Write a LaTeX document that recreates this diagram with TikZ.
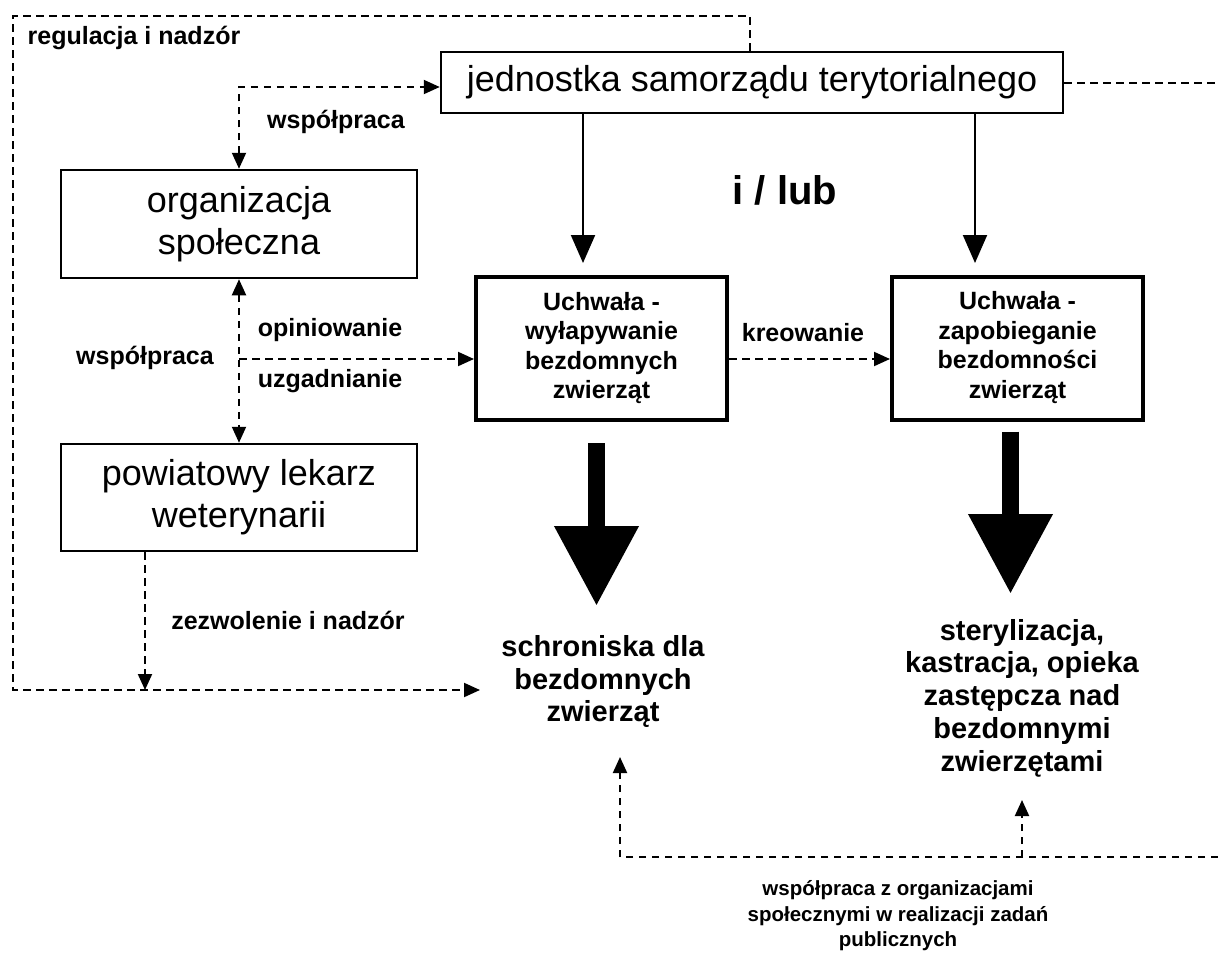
\documentclass[tikz,border=0pt]{standalone}
\usepackage{fontspec}
\setmainfont{Liberation Sans}
\usetikzlibrary{arrows.meta,calc}
\begin{document}
\begin{tikzpicture}[x=1pt,y=-1pt,
  regbox/.style={draw,line width=2.5pt,inner sep=0pt,align=center,font=\fontsize{36}{42}\selectfont},
  uchbox/.style={draw,line width=4pt,minimum width=251pt,minimum height=143pt,inner sep=0pt,align=center,font=\bfseries\fontsize{25}{29.5}\selectfont},
  lab/.style={inner sep=0pt,font=\bfseries\fontsize{25}{29}\selectfont},
  bigtxt/.style={inner sep=0pt,align=center,font=\bfseries\fontsize{29}{32.8}\selectfont},
  dline/.style={line width=2pt,dash pattern=on 7.5pt off 5.5pt},
  dtip/.style={-{Triangle[width=14pt,length=16pt]}},
  dtips/.style={{Triangle[width=14pt,length=16pt]}-{Triangle[width=14pt,length=16pt]}},
  solidar/.style={line width=2pt,-{Triangle[width=24pt,length=28pt]}},
  bigar/.style={line width=17pt,-{Triangle[width=80pt,length=80pt]}}
]
\useasboundingbox (0,0) rectangle (1218,961);

% boxes
\node[regbox,minimum width=622pt,minimum height=61pt] (jst) at (752,82.5) {jednostka samorządu terytorialnego};
\node[regbox,minimum width=356pt,minimum height=108pt] (org) at (239,224) {organizacja\\społeczna};
\node[regbox,minimum width=356pt,minimum height=107pt] (pow) at (239,497.5) {powiatowy lekarz\\weterynarii};
\node[uchbox] (u1) at (601.5,348.5) {\raisebox{3pt}{\begin{tabular}{@{}c@{}}Uchwała -\\wyłapywanie\\bezdomnych\\zwierząt\end{tabular}}};
\node[uchbox] (u2) at (1017.5,348) {\raisebox{3pt}{\begin{tabular}{@{}c@{}}Uchwała -\\zapobieganie\\bezdomności\\zwierząt\end{tabular}}};

% texts
\node[bigtxt] (sch) at (603,681.5) {schroniska dla\\bezdomnych\\zwierząt};
\node[bigtxt] (ste) at (1022,698) {sterylizacja,\\kastracja, opieka\\zastępcza nad\\bezdomnymi\\zwierzętami};
\node[inner sep=0pt,font=\bfseries\fontsize{40}{46}\selectfont] (ilub) at (785,190) {i / lub};

\node[lab] (lreg) at (134,38) {regulacja i nadzór};
\node[lab] (lwsp1) at (336,122) {współpraca};
\node[lab] (lopi) at (330,330) {opiniowanie};
\node[lab] (luzg) at (330,381) {uzgadnianie};
\node[lab] (lwsp2) at (145,358) {współpraca};
\node[lab] (lkre) at (803,333) {kreowanie};
\node[lab] (lzez) at (288,620) {zezwolenie i nadzór};
\node[inner sep=0pt,align=center,font=\bfseries\fontsize{20.5}{25.5}\selectfont] (lwsp3) at (898,916) {współpraca z organizacjami\\społecznymi w realizacji zadań\\publicznych};

% coordinates for free ends
\coordinate (fr) at (480,690);
\coordinate (pz) at (145,690);
\coordinate (tR) at (1218,85);
\coordinate (bA) at (620,757);
\coordinate (bB) at (1022,800);
\coordinate (bR) at (1218,857);
\coordinate (a1) at (583,263);
\coordinate (a2) at (975,263);
\coordinate (t1) at (596.5,606);
\coordinate (t2) at (1010.5,594);
\path ([yshift=-10.5pt]u1.west) coordinate (cm);

% dashed connectors
\draw[dline,dtip] ([xshift=-2pt]jst.north) |- (13,16) |- (fr);
\draw[dline,dtip] (pow.south -| pz) -- (pz);
\draw[dline,dtips] (org.north) |- ([yshift=-4.5pt]jst.west);
\draw[dline,dtips] (org.south) -- (pow.north);
\draw[dline,dtip] (org.south |- cm) -- (cm);
\draw[dline,dtip] (cm -| u1.east) -- (cm -| u2.west);
\draw[dline] (jst.east) -- (jst.east -| tR);
\draw[dline,dtip] (bR) -| (bA);
\draw[dline,dtip] (bB |- bR) -- (bB);

% solid arrows
\draw[solidar] (jst.south -| a1) -- (a1);
\draw[solidar] (jst.south -| a2) -- (a2);
\draw[bigar,shorten <=21pt] (u1.south -| t1) -- (t1);
\draw[bigar,shorten <=10pt] (u2.south -| t2) -- (t2);
\end{tikzpicture}
\end{document}
